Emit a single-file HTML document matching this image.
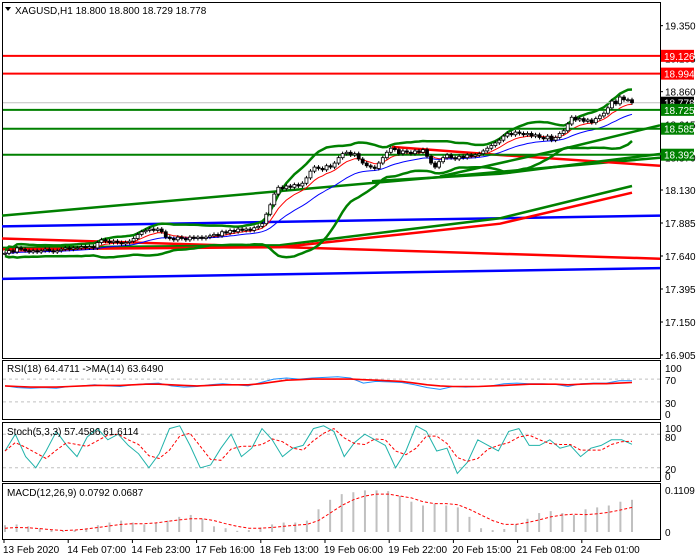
<!DOCTYPE html>
<html><head><meta charset="utf-8"><style>
html,body{margin:0;padding:0;background:#fff;}
svg{display:block;font-family:"Liberation Sans",sans-serif;}
text{font-size:10px;fill:#000;}
</style></head><body>
<svg id="c" width="700" height="560" viewBox="0 0 700 560"></svg>
<script>
const closes=[17.66,17.68,17.67,17.70,17.69,17.68,17.67,17.68,17.67,17.68,
17.69,17.68,17.67,17.68,17.69,17.70,17.69,17.70,17.70,17.71,
17.70,17.71,17.70,17.74,17.76,17.75,17.74,17.75,17.74,17.73,
17.74,17.75,17.77,17.80,17.82,17.83,17.84,17.83,17.84,17.82,
17.78,17.77,17.76,17.78,17.77,17.76,17.78,17.77,17.78,17.77,
17.78,17.79,17.80,17.79,17.82,17.81,17.83,17.82,17.84,17.83,
17.84,17.83,17.85,17.86,17.88,17.95,18.02,18.10,18.15,18.14,
18.16,18.15,18.17,18.16,18.18,18.22,18.27,18.30,18.29,18.28,
18.31,18.30,18.33,18.37,18.40,18.41,18.39,18.40,18.36,18.33,
18.31,18.30,18.29,18.33,18.37,18.41,18.44,18.43,18.40,18.42,
18.41,18.40,18.42,18.41,18.43,18.38,18.33,18.30,18.34,18.37,
18.39,18.37,18.36,18.38,18.37,18.39,18.38,18.39,18.40,18.42,
18.44,18.46,18.48,18.50,18.53,18.55,18.54,18.56,18.55,18.54,
18.55,18.53,18.54,18.52,18.51,18.53,18.50,18.52,18.55,18.57,
18.62,18.67,18.65,18.66,18.64,18.65,18.63,18.66,18.68,18.70,
18.74,18.79,18.77,18.82,18.80,18.80,18.778];
const priceTicks=["19.350","19.105","18.860","18.615","18.370","18.130","17.885","17.640","17.395","17.150","16.905"];
const priceTickVals=[19.35,19.105,18.86,18.615,18.37,18.13,17.885,17.64,17.395,17.15,16.905];
const levelVals=[19.126,18.994,18.725,18.585,18.392];
const levelColors=["#f00","#f00","#008000","#008000","#008000"];
// long trend lines: [startPrice, endPrice]
const trendStart=[17.94,17.86,17.77,17.47];
const trendEnd=[18.37,17.94,17.62,17.55];
const trendColors=["#008000","#0000ff","#f00","#0000ff"];
const rsi=[58,55,54,55,54,57,58,60,58,57,60,62,63,58,56,57,60,62,60,58,64,70,72,70,72,73,74,72,63,66,65,64,60,55,52,57,56,57,58,62,63,62,62,61,57,62,63,63,67,67];
const rsiMa=[58,57,56,56,56,57,58,59,59,59,60,61,61,60,59,58,59,60,60,60,62,65,68,69,70,70,70,70,69,68,67,66,63,60,58,57,57,57,58,59,60,61,61,61,60,61,62,62,63,64];
const stoch=[50,80,40,20,50,85,60,40,75,90,70,80,60,45,20,45,90,95,60,20,25,55,80,40,55,90,70,40,55,60,90,95,85,40,65,80,70,60,20,50,95,85,50,55,10,30,70,60,50,85,90,60,60,70,55,60,40,55,60,70,70,62];
const macdHist=[0.018,0.02,0.015,0.01,0.005,0.004,0.005,0.01,0.018,0.025,0.03,0.025,0.02,0.025,0.03,0.04,0.045,0.035,0.015,0.01,0.003,0.005,0.012,0.02,0.025,0.025,0.03,0.06,0.085,0.10,0.105,0.11,0.11,0.108,0.095,0.08,0.07,0.075,0.07,0.065,0.04,0.01,0.005,0.008,0.02,0.035,0.05,0.055,0.05,0.045,0.06,0.065,0.07,0.08,0.085];
const macdSig=[0.01,0.012,0.011,0.009,0.006,0.004,0.005,0.008,0.012,0.016,0.02,0.022,0.022,0.024,0.028,0.032,0.035,0.035,0.03,0.022,0.015,0.01,0.01,0.012,0.015,0.018,0.02,0.03,0.05,0.07,0.085,0.095,0.1,0.1,0.095,0.09,0.08,0.075,0.075,0.072,0.06,0.045,0.03,0.02,0.02,0.025,0.032,0.04,0.045,0.047,0.046,0.048,0.052,0.058,0.065];
const dateLabels=["13 Feb 2020","14 Feb 07:00","14 Feb 23:00","17 Feb 16:00","18 Feb 13:00","19 Feb 06:00","19 Feb 22:00","20 Feb 15:00","21 Feb 08:00","24 Feb 01:00"];

const svg=document.getElementById('c');
const NS='http://www.w3.org/2000/svg';
function mk(tag,attrs,parent){const e=document.createElementNS(NS,tag);for(const k in attrs)e.setAttribute(k,attrs[k]);(parent||svg).appendChild(e);return e;}
const X0=5,X1=632,PR=660;
const xBar=i=>X0+i*(X1-X0)/(closes.length-1);
const yP=p=>190+(18.13-p)*134.7;
const xSpread=(i,n)=>X0+i*(X1-X0)/(n-1);
function poly(pts,col,w,dash,name){const p=mk('polyline',{points:pts.map(q=>q[0].toFixed(1)+','+q[1].toFixed(1)).join(' '),fill:'none',stroke:col,'stroke-width':w});if(dash)p.setAttribute('stroke-dasharray',dash);

return p;}

// panels
const panels=[[2,2,358,'main-price-panel'],[2,360,419,'rsi-panel'],[2,422,481,'stoch-panel'],[2,483,539,'macd-panel']];
panels.forEach(p=>{const r=mk('rect',{x:p[0]+0.5,y:p[1]+0.5,width:PR-p[0],height:p[2]-p[1],fill:'#fff',stroke:'#000','stroke-width':1});

});

// price ticks
priceTickVals.forEach((v,i)=>{const y=yP(v);mk('line',{x1:PR,x2:PR+3,y1:y,y2:y,stroke:'#000'});
const t=mk('text',{x:665,y:y+4});t.textContent=priceTicks[i];

});

// trend lines
trendStart.forEach((s,i)=>poly([[X0-3,yP(s)],[PR,yP(trendEnd[i])]],trendColors[i],2.5,null,'trend-line'));
// curved longer MAs
poly([[3,yP(17.70)],[280,yP(17.72)],[400,yP(17.83)],[500,yP(17.92)],[632,yP(18.16)]],'#008000',2.5,null,'slow-ma-green');
poly([[3,yP(17.69)],[280,yP(17.705)],[400,yP(17.80)],[500,yP(17.88)],[632,yP(18.11)]],'#f00',2.5,null,'slow-ma-red');
poly([[392,yP(18.45)],[500,yP(18.39)],[660,yP(18.31)]],'#f00',2.5,null,'mid-ma-red');
poly([[372,yP(18.195)],[500,yP(18.25)],[663,yP(18.40)]],'#008000',2.5,null,'mid-ma-green');
poly([[440,yP(18.23)],[560,yP(18.43)],[660,yP(18.61)]],'#008000',2.5,null,'mid-ma-green-2');

// bollinger
const N=20,bu=[],bl=[];
for(let i=0;i<closes.length;i++){const s=closes.slice(Math.max(0,i-N+1),i+1);const m=s.reduce((a,b)=>a+b,0)/s.length;const sd=Math.sqrt(s.reduce((a,b)=>a+(b-m)*(b-m),0)/s.length);bu.push([xBar(i),yP(m+2*sd+0.02)]);bl.push([xBar(i),yP(m-2*sd-0.02)]);}
poly(bu,'#008000',2.5,null,'bollinger-upper');
poly(bl,'#008000',2.5,null,'bollinger-lower');
// emas
function ema(n){const k=2/(n+1);let e=closes[0];return closes.map((c,i)=>{e=i?c*k+e*(1-k):c;return [xBar(i),yP(e)];});}
poly(ema(8),'#f00',1,null,'ema-fast');
poly(ema(21),'#0000ff',1,null,'ema-slow');

// levels
levelVals.forEach((v,i)=>{const y=yP(v);const l=mk('line',{x1:3,x2:PR,y1:y,y2:y,stroke:levelColors[i],'stroke-width':2});

});
const yc=yP(18.778);mk('line',{x1:3,x2:PR,y1:yc,y2:yc,stroke:'#c0c0c0','stroke-width':1});

// candles
closes.forEach((c,i)=>{const o=i?closes[i-1]:c;const x=xBar(i);const hi=Math.max(o,c)+0.015,lo=Math.min(o,c)-0.015;
const w=mk('line',{x1:x,x2:x,y1:yP(hi),y2:yP(lo),stroke:'#000'});


const top=yP(Math.max(o,c)),h=Math.max(1,yP(Math.min(o,c))-top);
const b=mk('rect',{x:x-1.5,y:top,width:3,height:h,fill:c>=o?'#fff':'#000',stroke:'#000','stroke-width':0.8});

});

// level labels
const tags=[[19.126,'#f00','#fff'],[18.994,'#f00','#fff'],[18.778,'#000','#fff'],[18.725,'#008000','#fff'],[18.585,'#008000','#fff'],[18.392,'#008000','#fff']];
tags.forEach(t=>{const y=yP(t[0]);const r=mk('rect',{x:661,y:y-6,width:33,height:12,fill:t[1]});


const tx=mk('text',{x:664,y:y+4,style:'fill:'+t[2]});tx.textContent=t[0].toFixed(3);});

// title
const tri=mk('polygon',{points:'5,7 11,7 8,11',fill:'#000'});


const tt=mk('text',{x:15,y:14});tt.textContent='XAGUSD,H1  18.800 18.800 18.729 18.778';



// RSI
const yR=v=>419-(v/100)*57;
[70,30].forEach(v=>mk('line',{x1:3,x2:PR,y1:yR(v),y2:yR(v),stroke:'#c0c0c0','stroke-dasharray':'3,3'}));
poly(rsi.map((v,i)=>[xSpread(i,rsi.length),yR(v)]),'#1e90ff',1,null,'rsi-line');
poly(rsiMa.map((v,i)=>[xSpread(i,rsiMa.length),yR(v)]),'#f00',1.6,null,'rsi-ma-line');
[[100,368],[70,380],[30,403],[0,414]].forEach(a=>{const t=mk('text',{x:665,y:a[1]+4});t.textContent=a[0];});
const rt=mk('text',{x:7,y:372});rt.textContent='RSI(18) 64.4711  ->MA(14) 63.6490';



// Stoch
const yS=v=>479-(v/100)*56;
[80,20].forEach(v=>mk('line',{x1:3,x2:PR,y1:yS(v),y2:yS(v),stroke:'#c0c0c0','stroke-dasharray':'3,3'}));
poly(stoch.map((v,i)=>[xSpread(i,stoch.length),yS(v)]),'#20b2aa',1,null,'stoch-main-line');
const sig=stoch.map((v,i)=>{const s=stoch.slice(Math.max(0,i-2),i+1);return s.reduce((a,b)=>a+b,0)/s.length;});
poly(sig.map((v,i)=>[xSpread(i,sig.length),yS(v)]),'#f00',1,'3,2','stoch-signal-line');
[[100,428],[80,437],[20,469],[0,476]].forEach(a=>{const t=mk('text',{x:665,y:a[1]+4});t.textContent=a[0];});
const st=mk('text',{x:7,y:435});st.textContent='Stoch(5,3,3) 57.4586 61.6114';



// MACD
const yM=v=>532-v*378.7;
macdHist.forEach((v,i)=>{const x=xSpread(i,macdHist.length);const b=mk('rect',{x:x-1,y:yM(v),width:2,height:532-yM(v),fill:'#c0c0c0'});

});
poly(macdSig.map((v,i)=>[xSpread(i,macdSig.length),yM(v)]),'#f00',1,'3,2','macd-signal-line');
[['0.1109',490],['0',532]].forEach(a=>{const t=mk('text',{x:665,y:a[1]+4});t.textContent=a[0];});
const mt=mk('text',{x:7,y:496});mt.textContent='MACD(12,26,9) 0.0792 0.0687';



// dates
dateLabels.forEach((d,i)=>{const x=4+i*64.2;mk('line',{x1:x,x2:x,y1:539,y2:543,stroke:'#000'});
const t=mk('text',{x:x-1,y:553});t.textContent=d;

});
</script>
</body></html>
